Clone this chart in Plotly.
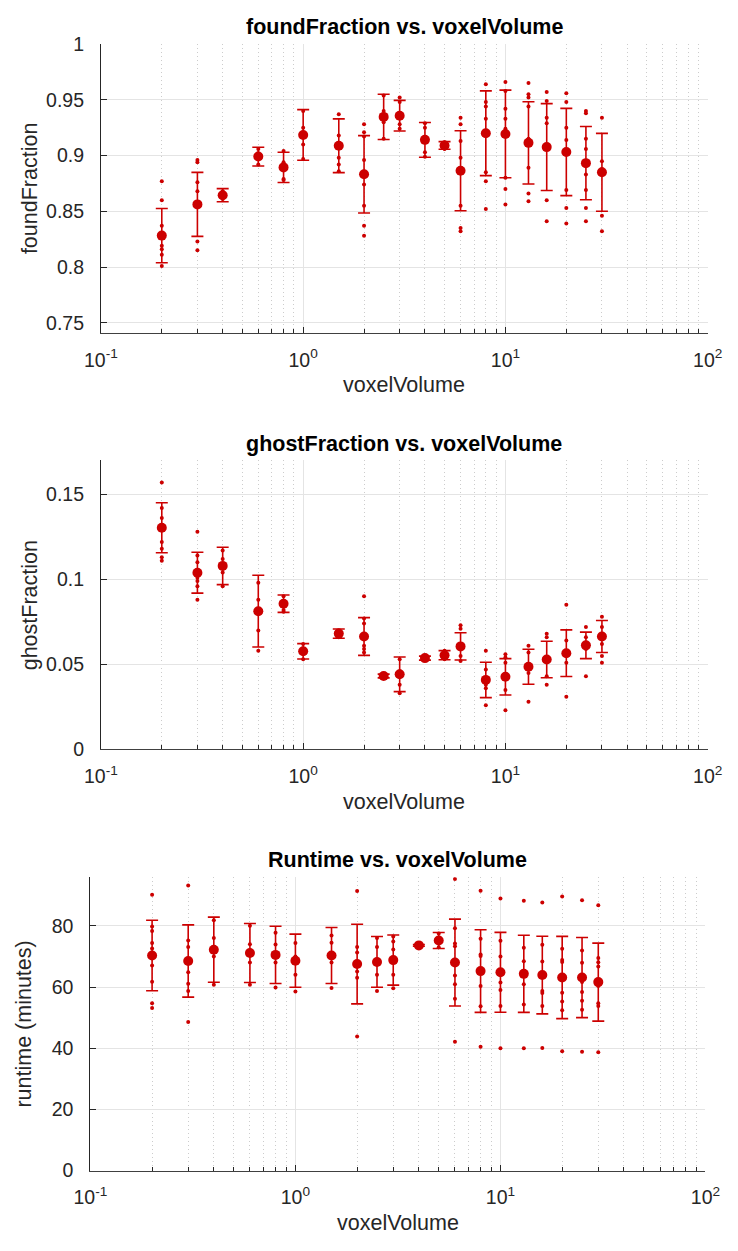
import plotly.graph_objects as go

# ---------------- data ----------------
voxel_volume = [0.2, 0.3, 0.4, 0.6, 0.8, 1, 1.5, 2, 2.5, 3, 4, 5, 6, 8, 10, 13, 16, 20, 25, 30]

found_mean = [0.8282, 0.8562, 0.8644, 0.8991, 0.8894, 0.9185, 0.9088, 0.8832, 0.9347, 0.9358,
              0.9141, 0.9091, 0.8864, 0.9200, 0.9194, 0.9114, 0.9076, 0.9032, 0.8932, 0.8850]
found_std = [0.0243, 0.0287, 0.0059, 0.0084, 0.0136, 0.0227, 0.0241, 0.0347, 0.0203, 0.0137,
             0.0156, 0.0034, 0.0359, 0.0380, 0.0393, 0.0369, 0.0390, 0.0391, 0.0329, 0.0349]
found_runs = [
    [0.877, 0.860, 0.837, 0.828, 0.819, 0.816, 0.811, 0.801],
    [0.896, 0.894, 0.876, 0.868, 0.856, 0.823, 0.815],
    [0.868, 0.866, 0.861, 0.863],
    [0.906, 0.902, 0.897, 0.892],
    [0.904, 0.894, 0.889, 0.879, 0.878],
    [0.940, 0.925, 0.918, 0.910, 0.897],
    [0.937, 0.918, 0.910, 0.898, 0.892, 0.886],
    [0.928, 0.921, 0.917, 0.896, 0.874, 0.855, 0.837, 0.828],
    [0.954, 0.940, 0.930, 0.915],
    [0.952, 0.948, 0.936, 0.928, 0.924],
    [0.929, 0.925, 0.914, 0.903, 0.899],
    [0.912, 0.909, 0.906],
    [0.934, 0.928, 0.913, 0.898, 0.855, 0.835, 0.832],
    [0.964, 0.948, 0.944, 0.933, 0.885, 0.877, 0.852],
    [0.966, 0.958, 0.942, 0.933, 0.924, 0.880, 0.870, 0.856],
    [0.965, 0.955, 0.952, 0.944, 0.915, 0.889, 0.866, 0.859],
    [0.957, 0.949, 0.934, 0.929, 0.860, 0.841],
    [0.956, 0.948, 0.925, 0.914, 0.869, 0.853, 0.839],
    [0.940, 0.938, 0.915, 0.906, 0.883, 0.869, 0.853, 0.841],
    [0.934, 0.895, 0.888, 0.846, 0.832],
]

ghost_mean = [0.1303, 0.1039, 0.1079, 0.0813, 0.0857, 0.0577, 0.0681, 0.0664, 0.0432, 0.0442,
              0.0537, 0.0554, 0.0606, 0.0409, 0.0427, 0.0486, 0.0529, 0.0566, 0.0612, 0.0664]
ghost_std = [0.0147, 0.0120, 0.0110, 0.0211, 0.0051, 0.0045, 0.0027, 0.0111, 0.0011, 0.0102,
             0.0012, 0.0027, 0.0080, 0.0104, 0.0107, 0.0103, 0.0107, 0.0137, 0.0078, 0.0094]
ghost_runs = [
    [0.157, 0.142, 0.136, 0.122, 0.118, 0.113, 0.111],
    [0.128, 0.114, 0.110, 0.101, 0.099, 0.096, 0.088],
    [0.117, 0.112, 0.104, 0.096],
    [0.098, 0.088, 0.070, 0.058],
    [0.090, 0.087, 0.082, 0.081],
    [0.062, 0.058, 0.053],
    [0.070, 0.068, 0.066],
    [0.090, 0.077, 0.074, 0.061, 0.059, 0.057],
    [0.044, 0.043, 0.042],
    [0.053, 0.046, 0.038, 0.033],
    [0.055, 0.054, 0.053],
    [0.058, 0.055, 0.053],
    [0.073, 0.071, 0.062, 0.055, 0.052],
    [0.058, 0.047, 0.038, 0.036, 0.026],
    [0.056, 0.054, 0.051, 0.035, 0.023],
    [0.061, 0.057, 0.045, 0.028],
    [0.068, 0.066, 0.043, 0.038],
    [0.085, 0.064, 0.051, 0.031],
    [0.072, 0.066, 0.059, 0.043],
    [0.078, 0.072, 0.062, 0.055, 0.051],
]

runtime_mean = [70.3, 68.5, 72.2, 71.1, 70.5, 68.6, 70.3, 67.5, 68.2, 68.8,
                73.6, 75.2, 68.0, 65.2, 64.8, 64.3, 63.9, 63.1, 63.1, 61.6]
runtime_std = [11.5, 11.8, 10.65, 9.65, 9.35, 8.7, 9.15, 13.0, 8.3, 8.2,
               0.3, 2.6, 14.2, 13.5, 13.05, 12.6, 12.7, 13.45, 13.1, 12.75]
runtime_runs = [
    [90.2, 79.8, 78.3, 74.4, 72.6, 67.0, 61.7, 54.7, 53.1],
    [93.2, 75.2, 73.1, 64.8, 61.1, 58.7, 48.6],
    [81.8, 76.0, 70.0, 60.7],
    [80.0, 74.0, 68.0, 60.7],
    [77.7, 73.9, 68.0, 59.8],
    [74.4, 70.0, 64.0, 58.5],
    [76.8, 74.5, 68.0, 59.7],
    [91.4, 73.1, 71.3, 65.1, 63.0, 43.8],
    [76.0, 73.1, 64.0, 58.7],
    [76.5, 74.9, 72.3, 64.0, 59.6],
    [74.0, 73.6, 73.2],
    [77.5, 75.2, 73.0],
    [95.3, 79.2, 74.2, 73.3, 67.2, 63.8, 60.9, 56.2, 42.1],
    [91.5, 75.8, 70.6, 70.1, 60.3, 53.7, 40.5],
    [88.9, 75.1, 70.0, 61.5, 59.0, 53.8, 40.0],
    [88.2, 72.8, 68.4, 60.9, 54.3, 40.0],
    [87.6, 73.8, 68.3, 58.7, 58.0, 53.8, 40.1],
    [89.6, 72.5, 68.8, 68.2, 58.1, 55.3, 52.4, 39.0],
    [88.4, 71.9, 67.9, 61.6, 58.4, 55.5, 52.6, 38.8],
    [86.7, 69.5, 68.1, 66.7, 60.3, 54.7, 53.8, 38.7],
]

titles = ["foundFraction vs. voxelVolume", "ghostFraction vs. voxelVolume", "Runtime vs. voxelVolume"]
ylabels = ["foundFraction", "ghostFraction", "runtime (minutes)"]
xlabel = "voxelVolume"
x_tickvals = [0.1, 1, 10, 100]
x_ticktext = ["10<sup>-1</sup>", "10<sup>0</sup>", "10<sup>1</sup>", "10<sup>2</sup>"]
y_tickvals = [[0.75, 0.8, 0.85, 0.9, 0.95, 1.0], [0, 0.05, 0.1, 0.15], [0, 20, 40, 60, 80]]
y_ticktext = [["0.75", "0.8", "0.85", "0.9", "0.95", "1"], ["0", "0.05", "0.1", "0.15"], ["0", "20", "40", "60", "80"]]
y_ranges = [[0.7406, 1.0], [0, 0.17], [0, 95.9]]

# ---------------- layout geometry (pixels) ----------------
W, H = 738, 1251
panels = [
    dict(x0=87.7, x1=722.0, top=33.7, bot=328.0, ylab=13),
    dict(x0=87.7, x1=722.0, top=457.3, bot=751.7, ylab=13),
    dict(x0=76.7, x1=719.7, top=881.7, bot=1180.3, ylab=7),
]

RED = "#CC0000"
FONT = "Liberation Sans, Arial, Helvetica, sans-serif"
TICKCOL = "#262626"
TICKSIZE = 19.5
LABSIZE = 21.5

fig = go.Figure()
means = [found_mean, ghost_mean, runtime_mean]
stds = [found_std, ghost_std, runtime_std]
runs = [found_runs, ghost_runs, runtime_runs]

for i in range(3):
    xa = "x" if i == 0 else f"x{i+1}"
    ya = "y" if i == 0 else f"y{i+1}"
    px, py = [], []
    for xv, pts in zip(voxel_volume, runs[i]):
        for p in pts:
            px.append(xv)
            py.append(p)
    fig.add_trace(go.Scatter(x=px, y=py, mode="markers", xaxis=xa, yaxis=ya,
                             marker=dict(color=RED, size=4, line=dict(width=0)),
                             showlegend=False, hoverinfo="skip"))
    fig.add_trace(go.Scatter(x=voxel_volume, y=means[i], mode="markers", xaxis=xa, yaxis=ya,
                             marker=dict(color=RED, size=10, line=dict(width=0)),
                             error_y=dict(type="data", array=stds[i], visible=True,
                                          color=RED, thickness=1.6, width=6),
                             showlegend=False))

layout = dict(width=W, height=H, margin=dict(l=0, r=0, t=0, b=0),
              paper_bgcolor="white", plot_bgcolor="white",
              font=dict(family=FONT, size=TICKSIZE, color=TICKCOL))
annotations = []
for i, p in enumerate(panels):
    sfx = "" if i == 0 else str(i + 1)
    xdom = [p["x0"] / W, p["x1"] / W]
    ydom = [1 - p["bot"] / H, 1 - p["top"] / H]
    layout["xaxis" + sfx] = dict(
        type="log", range=[-1, 2], domain=xdom, anchor="y" + sfx,
        tickvals=x_tickvals, ticktext=x_ticktext,
        ticks="inside", ticklen=6, tickcolor=TICKCOL, tickwidth=1,
        showline=True, linecolor="#404040", linewidth=1, mirror=False,
        showgrid=True, gridcolor="#e4e4e4", gridwidth=1, zeroline=False,
        tickfont=dict(size=TICKSIZE, color=TICKCOL), ticklabelstandoff=9,
        minor=dict(tickvals=[m * 10 ** e for e in (-1, 0, 1) for m in range(2, 10)],
                   ticks="inside", ticklen=4, tickcolor=TICKCOL,
                   showgrid=True, gridcolor="#cccccc", griddash="1px,3px", gridwidth=1),
    )
    layout["yaxis" + sfx] = dict(
        range=y_ranges[i], domain=ydom, anchor="x" + sfx,
        tickvals=y_tickvals[i], ticktext=y_ticktext[i],
        ticks="inside", ticklen=6, tickcolor=TICKCOL, tickwidth=1,
        showline=True, linecolor=TICKCOL, linewidth=1, mirror=False,
        showgrid=True, gridcolor="#e4e4e4", gridwidth=1, zeroline=False,
        tickfont=dict(size=TICKSIZE, color=TICKCOL), ticklabelstandoff=12,
    )
    cx = (p["x0"] + p["x1"]) / 2 / W
    annotations.append(dict(text="<b>" + titles[i] + "</b>", x=cx, y=1 - (p["top"] - 17) / H,
                            xref="paper", yref="paper", xanchor="center", yanchor="middle",
                            showarrow=False, font=dict(size=LABSIZE, color="black", family=FONT)))
    annotations.append(dict(text=xlabel, x=cx, y=1 - (p["bot"] + 53) / H,
                            xref="paper", yref="paper", xanchor="center", yanchor="middle",
                            showarrow=False, font=dict(size=LABSIZE, color=TICKCOL, family=FONT)))
    annotations.append(dict(text=ylabels[i], x=p["ylab"] / W, y=1 - (p["top"] + p["bot"]) / 2 / H,
                            xref="paper", yref="paper", xanchor="center", yanchor="middle",
                            textangle=-90, showarrow=False,
                            font=dict(size=LABSIZE, color=TICKCOL, family=FONT)))
layout["annotations"] = annotations
fig.update_layout(**layout)
fig.write_html("out.html")
